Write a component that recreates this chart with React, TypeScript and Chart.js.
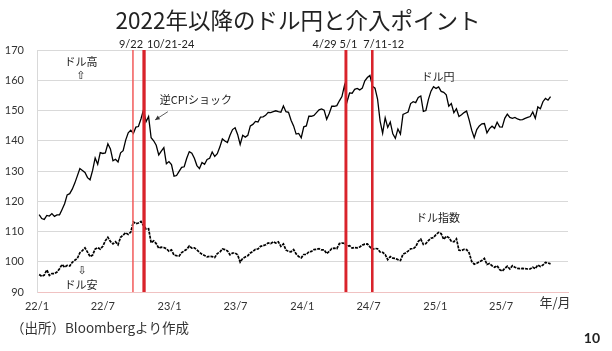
import React, { useEffect, useRef } from 'react';
import { Chart, registerables } from 'chart.js';

Chart.register(...registerables);

const TITLE = '2022年以降のドル円と介入ポイント';
const SOURCE = '（出所）Bloombergより作成';
const PAGE = '10';
const X_UNIT = '年/月';

// weekly observations starting from this date
const SERIES_START = '2022-01-07';

const usdjpy2022 = [115.6, 114.3, 114.0, 115.3, 115.1, 115.9, 115.0, 115.5, 115.5, 117.3, 119.2, 122.1, 122.5, 124.0, 126.0, 128.4, 130.8, 130.2, 129.5, 127.8, 127.1, 130.2, 134.3, 132.2, 136.1, 135.8, 136.0, 139.0, 137.3, 133.4, 133.9, 133.0, 136.0, 136.7, 140.2, 142.6, 143.5, 142.4, 144.5, 144.7, 147.2, 150.2, 146.3, 148.0, 141.0, 140.0, 138.5, 135.3, 136.6, 137.7, 132.4, 133.1];
const usdjpy2023 = [132.1, 128.3, 128.5, 129.9, 131.2, 131.4, 134.2, 136.4, 135.9, 134.2, 131.8, 130.8, 132.8, 132.2, 133.8, 134.2, 136.3, 134.8, 135.7, 137.9, 140.6, 139.9, 139.4, 141.8, 143.7, 144.3, 142.1, 138.8, 141.8, 141.2, 141.8, 144.9, 145.4, 146.4, 146.2, 147.8, 147.9, 148.4, 149.4, 149.3, 149.6, 149.9, 149.6, 149.4, 151.5, 149.6, 149.4, 146.8, 144.9, 142.2, 142.4, 141.0];
const usdjpy2024 = [144.6, 144.9, 148.1, 148.1, 148.4, 149.3, 150.2, 150.5, 150.1, 147.1, 149.0, 151.4, 151.4, 151.6, 153.2, 154.6, 158.3, 152.9, 155.8, 155.7, 157.0, 157.3, 156.8, 157.4, 159.8, 160.9, 161.6, 158.0, 157.4, 153.8, 146.5, 142.5, 147.6, 144.4, 146.2, 142.3, 140.8, 143.9, 142.2, 148.7, 149.1, 149.5, 152.3, 152.9, 152.6, 154.3, 154.8, 149.7, 150.0, 153.7, 156.4, 157.9];
const usdjpy2025 = [157.3, 157.8, 156.3, 156.0, 155.2, 151.4, 152.3, 149.3, 150.6, 148.0, 148.6, 149.3, 149.8, 146.9, 143.5, 141.0, 143.7, 144.9, 145.6, 145.7, 142.6, 144.0, 144.8, 144.1, 146.1, 144.6, 144.5, 147.4, 148.8, 147.7, 147.4, 147.7, 147.2, 146.9, 147.0, 147.4, 147.7, 148.0, 149.5, 147.4, 151.2, 150.6, 152.9, 154.0, 153.4, 154.6];

const dxy2022 = [95.8, 95.2, 95.6, 97.3, 95.5, 96.1, 96.1, 96.6, 97.7, 99.1, 98.2, 98.8, 98.6, 99.8, 100.5, 101.1, 103.0, 103.7, 104.6, 103.2, 101.7, 102.2, 104.2, 104.7, 104.2, 105.1, 106.9, 108.1, 106.7, 105.9, 106.6, 105.6, 108.1, 108.8, 109.6, 109.0, 109.8, 113.2, 112.6, 112.8, 113.3, 112.0, 110.8, 110.9, 106.3, 106.9, 106.0, 104.5, 104.8, 104.7, 104.3, 103.5];
const dxy2023 = [103.9, 102.2, 102.0, 101.9, 103.0, 103.6, 104.1, 105.2, 104.5, 104.6, 103.9, 103.1, 102.5, 102.1, 101.6, 101.8, 101.7, 101.4, 102.7, 103.2, 104.2, 104.0, 103.6, 102.3, 102.9, 102.9, 102.3, 99.9, 101.1, 101.6, 102.0, 102.9, 103.4, 104.1, 104.2, 105.1, 105.3, 105.6, 106.2, 106.0, 106.6, 106.2, 106.6, 105.1, 105.9, 103.9, 103.4, 103.3, 104.0, 102.6, 101.7, 101.3];
const dxy2024 = [102.4, 102.4, 103.3, 103.4, 104.0, 104.1, 104.3, 103.9, 103.9, 102.7, 103.4, 104.4, 104.5, 104.3, 106.0, 106.2, 106.1, 105.1, 105.3, 104.5, 104.7, 104.6, 104.9, 105.5, 105.8, 105.9, 104.9, 104.1, 104.4, 104.3, 103.2, 103.1, 102.4, 100.7, 101.7, 101.2, 101.1, 100.7, 100.4, 102.5, 102.9, 103.5, 104.3, 104.3, 105.0, 106.7, 107.5, 105.7, 106.0, 107.0, 107.8, 108.0];
const dxy2025 = [109.0, 109.7, 109.3, 107.4, 108.4, 108.0, 106.8, 106.6, 107.6, 103.8, 103.7, 104.1, 104.0, 102.9, 100.1, 99.2, 99.5, 100.0, 100.4, 101.1, 99.1, 99.4, 98.7, 98.2, 98.7, 97.4, 96.9, 97.8, 98.5, 97.6, 98.7, 98.2, 97.8, 97.7, 97.8, 97.7, 97.6, 97.6, 98.2, 97.7, 98.9, 98.4, 98.9, 99.8, 99.6, 99.3];

const xTickDates = ['2022-01-01', '2022-07-01', '2023-01-01', '2023-07-01', '2024-01-01', '2024-07-01', '2025-01-01', '2025-07-01'];
const xTickLabels = ['22/1', '22/7', '23/1', '23/7', '24/1', '24/7', '25/1', '25/7'];
const X_MIN_DATE = '2022-01-01';
const X_MAX_DATE = '2026-01-01';
const Y_MIN = 90;
const Y_MAX = 170;
const Y_STEP = 10;

const interventions = [
  { label: '9/22', from: '2022-09-22', to: '2022-09-22' },
  { label: '10/21-24', from: '2022-10-21', to: '2022-10-24' },
  { label: '4/29 5/1', from: '2024-04-29', to: '2024-05-01' },
  { label: '7/11-12', from: '2024-07-11', to: '2024-07-12' },
];

// styles for the intervention lines (separate from data)
const interventionStyles = [
  { color: '#f25a5a', width: 1.5, align: 'center', dx: -2 },
  { color: '#d9232b', width: 2.2, align: 'left', dx: 3 },
  { color: '#d9232b', width: 2.2, align: 'center', dx: -11 },
  { color: '#d9232b', width: 2.2, align: 'left', dx: -9 },
];

const DAY_MS = 86400000;
const dayOf = (s: string) => {
  const [y, m, d] = s.split('-').map(Number);
  const [by, bm, bd] = X_MIN_DATE.split('-').map(Number);
  return (Date.UTC(y, m - 1, d) - Date.UTC(by, bm - 1, bd)) / DAY_MS;
};

const usdjpy = [...usdjpy2022, ...usdjpy2023, ...usdjpy2024, ...usdjpy2025];
const dxy = [...dxy2022, ...dxy2023, ...dxy2024, ...dxy2025];
const weekDays = usdjpy.map((_, i) => dayOf(SERIES_START) + 7 * i);

// text notes anchored in data coordinates (day, value)
const notes = [
  { text: 'ドル高', date: '2022-05-02', value: 166, font: '11px "Noto Sans CJK JP"' },
  { text: '⇧', date: '2022-05-02', value: 161.2, font: '11px "DejaVu Sans"' },
  { text: 'ドル安', date: '2022-05-02', value: 92.3, font: '11px "Noto Sans CJK JP"' },
  { text: '⇩', date: '2022-05-05', value: 96.8, font: '11px "DejaVu Sans"' },
  { text: 'ドル円', date: '2025-01-08', value: 161.1, font: '11px "Noto Sans CJK JP"' },
  { text: 'ドル指数', date: '2025-01-08', value: 114.4, font: '11px "Noto Sans CJK JP"' },
];
const cpiNote = { text: '逆CPIショック', date: '2022-12-05', value: 153.4, from: ['2022-12-27', 149.6], to: ['2022-11-22', 146.9] };

const overlay = {
  id: 'overlay',
  afterDatasetsDraw(chart: any) {
    const { ctx, chartArea, scales } = chart;
    const xs = scales.x;
    const ys = scales.y;
    ctx.save();
    interventions.forEach((iv, i) => {
      const st = interventionStyles[i];
      const x1 = xs.getPixelForValue(dayOf(iv.from));
      const x2 = xs.getPixelForValue(dayOf(iv.to));
      const w = Math.max(st.width, x2 - x1 + st.width);
      ctx.fillStyle = st.color;
      ctx.fillRect((x1 + x2) / 2 - w / 2, chartArea.top, w, chartArea.bottom - chartArea.top);
      ctx.fillStyle = '#222';
      ctx.font = '11px Lato';
      ctx.textAlign = st.align;
      ctx.textBaseline = 'middle';
      ctx.fillText(iv.label, (x1 + x2) / 2 + st.dx, chartArea.top - 6);
    });
    ctx.fillStyle = '#222';
    ctx.textAlign = 'center';
    ctx.textBaseline = 'middle';
    notes.forEach((n) => {
      ctx.font = n.font;
      ctx.fillText(n.text, xs.getPixelForValue(dayOf(n.date)), ys.getPixelForValue(n.value));
    });
    // CPI note + arrow
    ctx.font = '11px "Noto Sans CJK JP"';
    ctx.textAlign = 'left';
    ctx.fillText(cpiNote.text, xs.getPixelForValue(dayOf(cpiNote.date)), ys.getPixelForValue(cpiNote.value));
    const ax1 = xs.getPixelForValue(dayOf(cpiNote.from[0] as string));
    const ay1 = ys.getPixelForValue(cpiNote.from[1] as number);
    const ax2 = xs.getPixelForValue(dayOf(cpiNote.to[0] as string));
    const ay2 = ys.getPixelForValue(cpiNote.to[1] as number);
    ctx.strokeStyle = '#333';
    ctx.lineWidth = 0.8;
    ctx.beginPath();
    ctx.moveTo(ax1, ay1);
    ctx.lineTo(ax2, ay2);
    ctx.stroke();
    const ang = Math.atan2(ay2 - ay1, ax2 - ax1);
    ctx.fillStyle = '#333';
    ctx.beginPath();
    ctx.moveTo(ax2, ay2);
    ctx.lineTo(ax2 - 5 * Math.cos(ang - 0.45), ay2 - 5 * Math.sin(ang - 0.45));
    ctx.lineTo(ax2 - 5 * Math.cos(ang + 0.45), ay2 - 5 * Math.sin(ang + 0.45));
    ctx.closePath();
    ctx.fill();
    // title
    ctx.fillStyle = '#222';
    ctx.font = '22.5px "Noto Sans CJK JP"';
    ctx.textAlign = 'center';
    ctx.fillText(TITLE, 298, 20);
    // unit
    ctx.font = '13px "Noto Sans CJK JP"';
    ctx.fillStyle = '#333';
    ctx.fillText(X_UNIT, chartArea.right - 13, chartArea.bottom + 10);
    // source
    ctx.textAlign = 'left';
    ctx.font = '13.5px "Noto Sans CJK JP"';
    ctx.fillText(SOURCE, 11, 328);
    ctx.textAlign = 'right';
    ctx.font = 'bold 14px Lato';
    ctx.fillStyle = '#222';
    ctx.fillText(PAGE, 600, 338);
    ctx.restore();
  },
};

export default function App() {
  const ref = useRef<HTMLCanvasElement | null>(null);
  useEffect(() => {
    if (!ref.current) return;
    const yTicks: number[] = [];
    for (let v = Y_MIN; v <= Y_MAX; v += Y_STEP) yTicks.push(v);
    const tickDays = xTickDates.map(dayOf);
    const chart = new Chart(ref.current, {
      type: 'line',
      data: {
        datasets: [
          {
            label: 'ドル円',
            data: weekDays.map((d, i) => ({ x: d, y: usdjpy[i] })),
            borderColor: '#000',
            borderWidth: 1.3,
            pointRadius: 0,
            tension: 0,
          },
          {
            label: 'ドル指数',
            data: weekDays.map((d, i) => ({ x: d, y: dxy[i] })),
            borderColor: '#000',
            borderWidth: 1.7,
            borderDash: [3, 1],
            pointRadius: 0,
            tension: 0,
          },
        ],
      },
      options: {
        animation: false,
        responsive: false,
        maintainAspectRatio: false,
        layout: { padding: { top: 50, right: 44, bottom: 29, left: 0 } },
        plugins: { legend: { display: false }, tooltip: { enabled: false }, title: { display: false } },
        scales: {
          x: {
            type: 'linear',
            min: dayOf(X_MIN_DATE),
            max: dayOf(X_MAX_DATE),
            afterBuildTicks: (scale: any) => {
              scale.ticks = tickDays.map((v) => ({ value: v }));
            },
            afterFit: (scale: any) => {
              scale.height = 30;
            },
            ticks: {
              autoSkip: false,
              maxRotation: 0,
              padding: 8,
              color: '#333',
              font: { family: 'Lato', size: 11 },
              callback: (v: any) => {
                const i = tickDays.indexOf(Number(v));
                return i >= 0 ? xTickLabels[i] : '';
              },
            },
            grid: { display: false, drawTicks: false, tickLength: 0 },
            border: { display: true, color: '#f0c2c2', width: 1 },
          },
          y: {
            type: 'linear',
            min: Y_MIN,
            max: Y_MAX,
            afterBuildTicks: (scale: any) => {
              scale.ticks = yTicks.map((v) => ({ value: v }));
            },
            afterFit: (scale: any) => {
              scale.width = 37;
            },
            ticks: {
              padding: 13,
              color: '#333',
              font: { family: 'Lato', size: 11 },
            },
            grid: { color: '#d9d9d9', lineWidth: 1, drawTicks: false, tickLength: 0 },
            border: { display: true, color: '#d9d9d9' },
          },
        },
      },
      plugins: [overlay],
    });
    return () => chart.destroy();
  }, []);
  return (
    <div style={{ position: 'absolute', left: 0, top: 0, width: 612, height: 351, background: '#fff' }}>
      <canvas ref={ref} width={612} height={351} />
    </div>
  );
}
